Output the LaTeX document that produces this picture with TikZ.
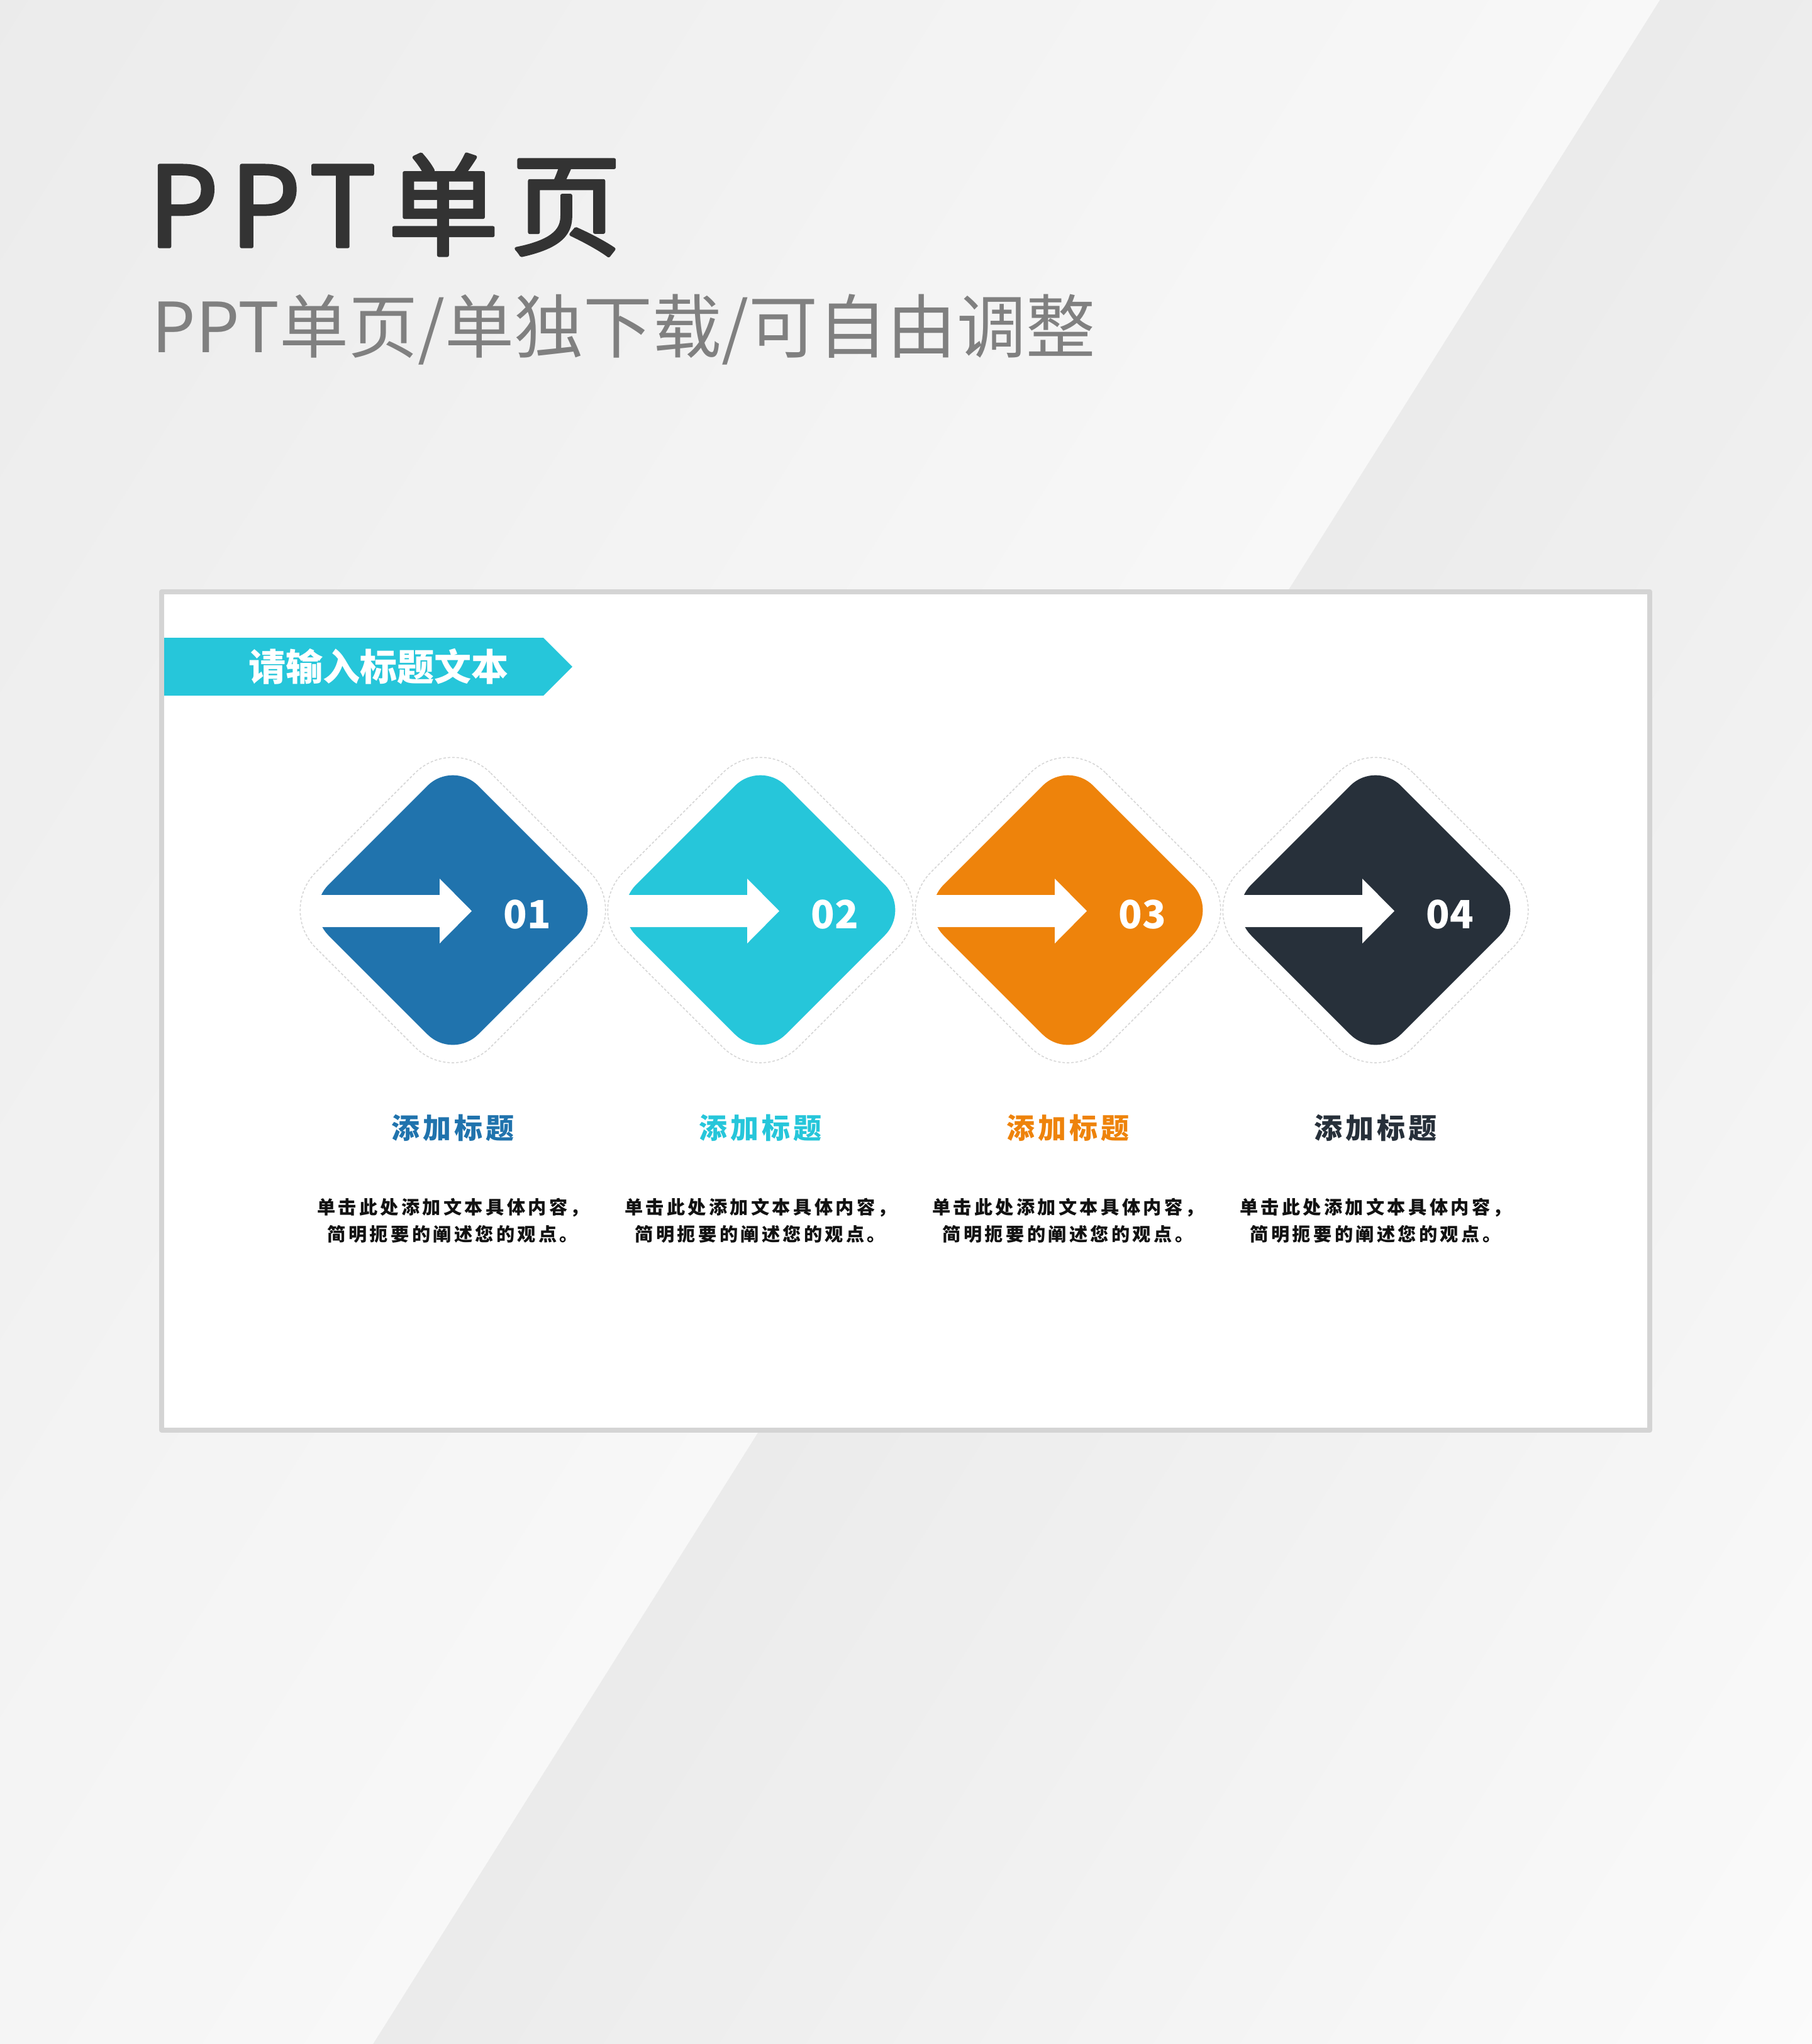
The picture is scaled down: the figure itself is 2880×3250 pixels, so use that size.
\documentclass[tikz,border=0pt]{standalone}
\usepackage{fontspec}
\newfontfamily\cjk{Noto Sans CJK SC}
\newfontfamily\cjkwide[LetterSpace=11,FakeBold=3]{Noto Sans CJK SC}
\newfontfamily\cjkmid[LetterSpace=11]{Noto Sans CJK SC}
\newfontfamily\cjknarrow[LetterSpace=15]{Noto Sans CJK SC}
\definecolor{bgdark}{HTML}{EBEBEB}
\definecolor{bglight}{HTML}{F8F8F8}
\definecolor{bgpale}{HTML}{FBFBFB}
\definecolor{panelgray}{HTML}{D4D4D4}
\definecolor{bannercyan}{HTML}{26C6DA}
\definecolor{stepblue}{HTML}{2073AD}
\definecolor{stepcyan}{HTML}{26C6DA}
\definecolor{steporange}{HTML}{EE830B}
\definecolor{stepdark}{HTML}{27303A}
\tikzset{
  bigtitle/.style={anchor=base west,inner sep=0pt,text=black!80,font=\cjkwide\fontsize{50}{60}\selectfont},
  subtitle/.style={anchor=base west,inner sep=0pt,text=black!50,font=\cjk\fontsize{31.3}{37}\selectfont},
  bannertext/.style={inner sep=0pt,text=white,font=\cjk\bfseries\fontsize{16.8}{20}\selectfont},
  numtext/.style={inner sep=0pt,text=white,font=\cjk\bfseries\fontsize{17.6}{21}\selectfont},
  steptitle/.style={inner sep=0pt,font=\cjkmid\bfseries\fontsize{12.8}{15}\selectfont},
  steptext/.style={inner sep=0pt,align=center,text=black!93,font=\cjknarrow\bfseries\fontsize{8.3}{12.2}\selectfont},
  outline/.style={draw=panelgray,fill=white,line width=0.015cm,dash pattern=on 0.04cm off 0.03cm,rounded corners=0.85cm}
}
\begin{document}
\begin{tikzpicture}[x=0.01cm,y=-0.01cm,line join=round]
\useasboundingbox (0,0) rectangle (2880,3250);
% background facets, strips parallel to the edge
\foreach \k in {0,...,49}{
  \pgfmathsetmacro\s{-2700+54*\k}
  \pgfmathsetmacro\p{2*\k}
  \fill[bglight!\p!bgdark] (2637+\s,0) -- (2693+\s,0) -- (647+\s,3250) -- (591+\s,3250) -- cycle;
  \pgfmathsetmacro\t{46*\k}
  \fill[bgpale!\p!bgdark] (2637+\t,0) -- (2685+\t,0) -- (639+\t,3250) -- (591+\t,3250) -- cycle;
}
% headings
\node[bigtitle] (title) at (235,392) {PPT单页};
\node[subtitle] (subtitle) at (241,560) {PPT单页/单独下载/可自由调整};
% panel
\draw[line width=0.08cm,draw=panelgray,fill=white] (257,941) rectangle (2623,2274);
\fill[bannercyan] (261,1014) -- (864,1014) -- (910,1060) -- (864,1106) -- (261,1106) -- cycle;
\node[bannertext] (banner) at (602,1060) {请输入标题文本};
% steps
\foreach \i/\cx/\col in {1/720/stepblue,2/1209/stepcyan,3/1698/steporange,4/2187/stepdark}{
  \coordinate (c\i) at (\cx,1447);
  \draw[outline] (\cx,1169) -- (\cx+278,1447) -- (\cx,1725) -- (\cx-278,1447) -- cycle;
  \fill[\col,rounded corners=0.57cm] (\cx,1209) -- (\cx+238,1447) -- (\cx,1685) -- (\cx-238,1447) -- cycle;
  \fill[white] (\cx-225,1423) -- (\cx-21,1423) -- (\cx-21,1397) -- (\cx+30,1448.5)
    -- (\cx-21,1500) -- (\cx-21,1474) -- (\cx-225,1474) -- cycle;
  \node[numtext] (num\i) at (\cx+118,1454) {0\i};
  \node[steptitle,text=\col] (ttl\i) at (\cx,1793) {添加标题};
  \node[steptext] (txt\i) at (\cx,1941) {单击此处添加文本具体内容，\\简明扼要的阐述您的观点。};
}
\end{tikzpicture}
\end{document}
